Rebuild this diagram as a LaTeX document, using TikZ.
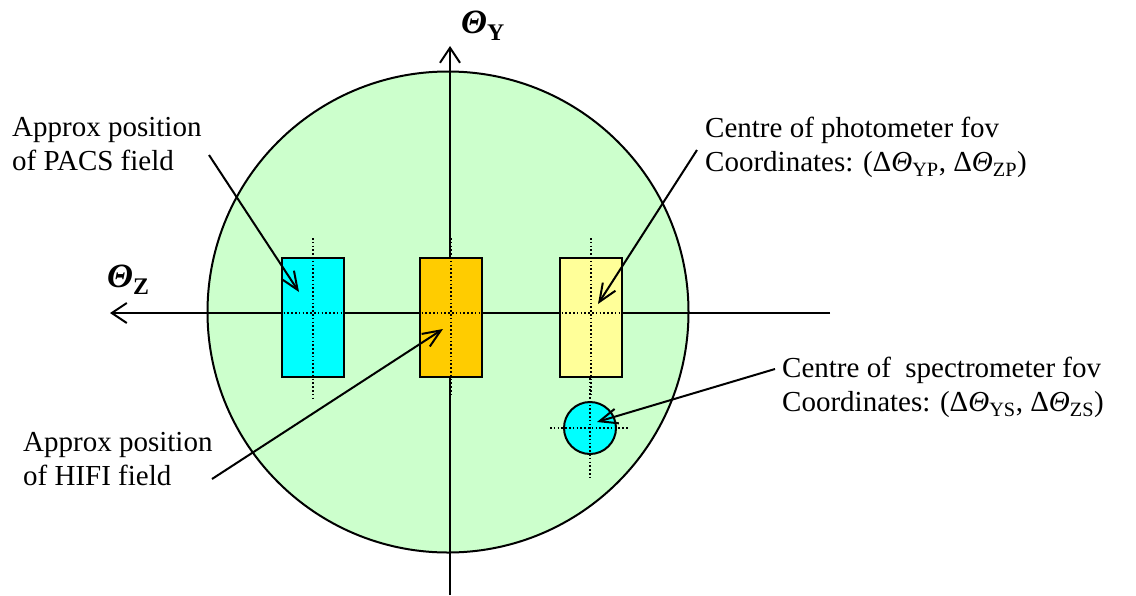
\documentclass[tikz,border=0pt]{standalone}
\usepackage{fontspec}
\setmainfont{Liberation Serif}
\usetikzlibrary{arrows.meta, positioning}
\definecolor{cField}{RGB}{204,255,204}
\definecolor{cCyan}{RGB}{0,255,255}
\definecolor{cOrange}{RGB}{255,204,0}
\definecolor{cYellow}{RGB}{255,255,153}
\newcommand{\thet}{\textit{Θ}}
\newcommand{\axlabel}[1]{{\bfseries\itshape Θ}\textsubscript{\bfseries #1}}

\begin{document}
\begin{tikzpicture}[x=1pt, y=-1pt,
            ax/.style={draw=black, line width=2pt, -{Straight Barb[length=15pt, width=20pt]}},
            axlbl/.style={anchor=base west, inner sep=0pt, font=\fontsize{34}{38}\selectfont},
            fld/.style={rectangle, draw=black, line width=2pt, minimum width=62pt, minimum height=119pt, inner sep=0pt},
            dot/.style={draw=black, line width=1.6pt, dash pattern=on 1.6pt off 2.2pt},
            ptr/.style={draw=black, line width=2pt, -{Straight Barb[length=18pt, width=15pt]}},
            lbl/.style={align=left, inner sep=0pt, anchor=north west, font=\fontsize{29}{34}\selectfont}]
            \useasboundingbox (0,0) rectangle (1136,595);
            % field of view and axes
            \draw[line width=2pt, fill=cField] (448,312) circle (240.5);
            \coordinate (yb) at (450,595);
            \coordinate (yt) at (450,46);
            \coordinate (zr) at (830,313);
            \coordinate (zl) at (110,313);
            \draw[ax] (yb) -- (yt);
            \draw[ax] (zr) -- (zl);
            \node[axlbl] (thy) at (461,33) {\axlabel{Y}};
            \node[axlbl] (thz) at (107,287) {\axlabel{Z}};
            % instrument fields
            \node[fld, fill=cCyan]   (pacs) at (313,317.5) {};
            \node[fld, fill=cOrange] (hifi) at (451,317.5) {};
            \node[fld, fill=cYellow] (phot) at (591,317.5) {};
            \draw[dot] (257,313) -- (371,313) (313,238) -- (313,400);
            \draw[dot] (395,313) -- (509,313) (451,238) -- (451,397);
            \draw[dot] (535,313) -- (649,313) (591,238) -- (591,397);
            \node[circle, draw=black, line width=2pt, fill=cCyan, minimum size=52pt, inner sep=0pt] (spec) at (590,428) {};
            \draw[dot] (550,428) -- (628,428) (590,378) -- (590,480);
            % labels
            \node[lbl] (pacsLbl) at (12,117) {Approx position\\of PACS field};
            \node[lbl] (hifiLbl) at (23,432) {Approx position\\of HIFI field};
            \node[lbl] (photLbl) at (705,117) {Centre of photometer fov\\Coordinates: (Δ\thet\textsubscript{YP}, Δ\thet\textsubscript{ZP})};
            \node[lbl] (specLbl) at (782,357) {Centre of~ spectrometer fov\\Coordinates: (Δ\thet\textsubscript{YS}, Δ\thet\textsubscript{ZS})};
            % pointers
            \coordinate (pacsS) at (209,155);
            \coordinate (pacsT) at (299,292);
            \coordinate (hifiS) at (212,479);
            \coordinate (hifiT) at (443,329);
            \coordinate (photS) at (697,150);
            \coordinate (photT) at (598,304);
            \coordinate (specS) at (775,369);
            \coordinate (specT) at (597,422);
            \draw[ptr] (pacsS) -- (pacsT);
            \draw[ptr] (hifiS) -- (hifiT);
            \draw[ptr] (photS) -- (photT);
            \draw[ptr] (specS) -- (specT);
        \end{tikzpicture}
\end{document}
